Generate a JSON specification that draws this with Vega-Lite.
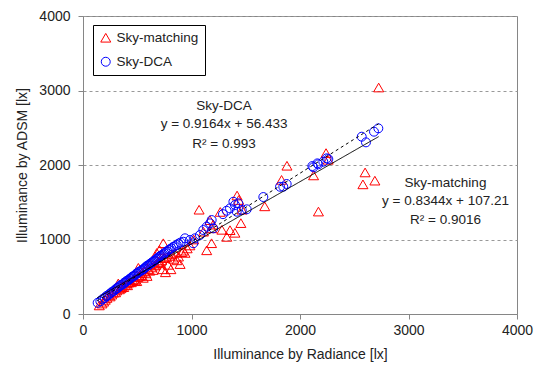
{
  "$schema": "https://vega.github.io/schema/vega-lite/v6.json",
  "width": 434,
  "height": 298,
  "autosize": {"type": "none"},
  "padding": {"left": 83, "top": 16, "right": 17, "bottom": 57},
  "background": "white",
  "config": {
    "font": "Liberation Sans",
    "view": {"stroke": "#868686", "strokeWidth": 1},
    "axis": {
      "domainColor": "#868686",
      "tickColor": "#868686",
      "tickSize": 5,
      "labelFontSize": 14,
      "labelColor": "#222222",
      "titleFontSize": 14,
      "titleFontWeight": "normal",
      "titleColor": "#222222",
      "labelFont": "Liberation Sans",
      "titleFont": "Liberation Sans"
    },
    "legend": {
      "orient": "none",
      "legendX": 10,
      "legendY": 9,
      "strokeColor": "#000000",
      "fillColor": "white",
      "padding": 6,
      "rowPadding": 9,
      "labelFontSize": 13.5,
      "labelOffset": 4,
      "labelColor": "#222222",
      "labelFont": "Liberation Sans",
      "symbolSize": 90,
      "symbolStrokeWidth": 1
    }
  },
  "datasets": {
    "points": [
      {"series": "Sky-matching", "x": 150, "y": 115},
      {"series": "Sky-matching", "x": 175, "y": 140},
      {"series": "Sky-matching", "x": 190, "y": 165},
      {"series": "Sky-matching", "x": 205, "y": 190},
      {"series": "Sky-matching", "x": 220, "y": 215},
      {"series": "Sky-matching", "x": 235, "y": 250},
      {"series": "Sky-matching", "x": 250, "y": 235},
      {"series": "Sky-matching", "x": 265, "y": 260},
      {"series": "Sky-matching", "x": 280, "y": 285},
      {"series": "Sky-matching", "x": 300, "y": 290},
      {"series": "Sky-matching", "x": 310, "y": 315},
      {"series": "Sky-matching", "x": 325, "y": 410},
      {"series": "Sky-matching", "x": 335, "y": 330},
      {"series": "Sky-matching", "x": 350, "y": 345},
      {"series": "Sky-matching", "x": 360, "y": 375},
      {"series": "Sky-matching", "x": 375, "y": 360},
      {"series": "Sky-matching", "x": 390, "y": 390},
      {"series": "Sky-matching", "x": 400, "y": 410},
      {"series": "Sky-matching", "x": 410, "y": 385},
      {"series": "Sky-matching", "x": 420, "y": 420},
      {"series": "Sky-matching", "x": 430, "y": 430},
      {"series": "Sky-matching", "x": 445, "y": 425},
      {"series": "Sky-matching", "x": 460, "y": 455},
      {"series": "Sky-matching", "x": 470, "y": 470},
      {"series": "Sky-matching", "x": 480, "y": 450},
      {"series": "Sky-matching", "x": 495, "y": 440},
      {"series": "Sky-matching", "x": 505, "y": 495},
      {"series": "Sky-matching", "x": 510, "y": 620},
      {"series": "Sky-matching", "x": 520, "y": 510},
      {"series": "Sky-matching", "x": 535, "y": 520},
      {"series": "Sky-matching", "x": 545, "y": 550},
      {"series": "Sky-matching", "x": 555, "y": 485},
      {"series": "Sky-matching", "x": 565, "y": 570},
      {"series": "Sky-matching", "x": 580, "y": 545},
      {"series": "Sky-matching", "x": 590, "y": 510},
      {"series": "Sky-matching", "x": 600, "y": 600},
      {"series": "Sky-matching", "x": 615, "y": 580},
      {"series": "Sky-matching", "x": 620, "y": 670},
      {"series": "Sky-matching", "x": 635, "y": 625},
      {"series": "Sky-matching", "x": 645, "y": 590},
      {"series": "Sky-matching", "x": 660, "y": 650},
      {"series": "Sky-matching", "x": 670, "y": 660},
      {"series": "Sky-matching", "x": 680, "y": 820},
      {"series": "Sky-matching", "x": 690, "y": 690},
      {"series": "Sky-matching", "x": 700, "y": 700},
      {"series": "Sky-matching", "x": 705, "y": 860},
      {"series": "Sky-matching", "x": 715, "y": 680},
      {"series": "Sky-matching", "x": 725, "y": 720},
      {"series": "Sky-matching", "x": 735, "y": 600},
      {"series": "Sky-matching", "x": 740, "y": 950},
      {"series": "Sky-matching", "x": 750, "y": 750},
      {"series": "Sky-matching", "x": 760, "y": 560},
      {"series": "Sky-matching", "x": 770, "y": 760},
      {"series": "Sky-matching", "x": 785, "y": 660},
      {"series": "Sky-matching", "x": 795, "y": 780},
      {"series": "Sky-matching", "x": 810, "y": 600},
      {"series": "Sky-matching", "x": 820, "y": 800},
      {"series": "Sky-matching", "x": 835, "y": 740},
      {"series": "Sky-matching", "x": 850, "y": 820},
      {"series": "Sky-matching", "x": 865, "y": 720},
      {"series": "Sky-matching", "x": 880, "y": 770},
      {"series": "Sky-matching", "x": 895, "y": 670},
      {"series": "Sky-matching", "x": 910, "y": 830},
      {"series": "Sky-matching", "x": 925, "y": 850},
      {"series": "Sky-matching", "x": 940, "y": 820},
      {"series": "Sky-matching", "x": 960, "y": 880},
      {"series": "Sky-matching", "x": 985, "y": 920},
      {"series": "Sky-matching", "x": 1020, "y": 1000},
      {"series": "Sky-matching", "x": 1070, "y": 1400},
      {"series": "Sky-matching", "x": 1110, "y": 1105},
      {"series": "Sky-matching", "x": 1140, "y": 855},
      {"series": "Sky-matching", "x": 1170, "y": 1260},
      {"series": "Sky-matching", "x": 1185, "y": 950},
      {"series": "Sky-matching", "x": 1186, "y": 1150},
      {"series": "Sky-matching", "x": 1200, "y": 1200},
      {"series": "Sky-matching", "x": 1265, "y": 1370},
      {"series": "Sky-matching", "x": 1280, "y": 1130},
      {"series": "Sky-matching", "x": 1325, "y": 1035},
      {"series": "Sky-matching", "x": 1355, "y": 1125},
      {"series": "Sky-matching", "x": 1400, "y": 1090},
      {"series": "Sky-matching", "x": 1420, "y": 1590},
      {"series": "Sky-matching", "x": 1435, "y": 1530},
      {"series": "Sky-matching", "x": 1455, "y": 1220},
      {"series": "Sky-matching", "x": 1465, "y": 1400},
      {"series": "Sky-matching", "x": 1675, "y": 1445},
      {"series": "Sky-matching", "x": 1830, "y": 1800},
      {"series": "Sky-matching", "x": 1880, "y": 1990},
      {"series": "Sky-matching", "x": 2125, "y": 1860},
      {"series": "Sky-matching", "x": 2170, "y": 1375},
      {"series": "Sky-matching", "x": 2240, "y": 2160},
      {"series": "Sky-matching", "x": 2260, "y": 2070},
      {"series": "Sky-matching", "x": 2580, "y": 1740},
      {"series": "Sky-matching", "x": 2600, "y": 1900},
      {"series": "Sky-matching", "x": 2690, "y": 1790},
      {"series": "Sky-matching", "x": 2725, "y": 3040},
      {"series": "Sky-DCA", "x": 135, "y": 150},
      {"series": "Sky-DCA", "x": 160, "y": 170},
      {"series": "Sky-DCA", "x": 180, "y": 200},
      {"series": "Sky-DCA", "x": 200, "y": 215},
      {"series": "Sky-DCA", "x": 215, "y": 240},
      {"series": "Sky-DCA", "x": 230, "y": 250},
      {"series": "Sky-DCA", "x": 245, "y": 270},
      {"series": "Sky-DCA", "x": 260, "y": 285},
      {"series": "Sky-DCA", "x": 270, "y": 300},
      {"series": "Sky-DCA", "x": 285, "y": 310},
      {"series": "Sky-DCA", "x": 300, "y": 330},
      {"series": "Sky-DCA", "x": 310, "y": 345},
      {"series": "Sky-DCA", "x": 320, "y": 350},
      {"series": "Sky-DCA", "x": 335, "y": 370},
      {"series": "Sky-DCA", "x": 345, "y": 385},
      {"series": "Sky-DCA", "x": 355, "y": 390},
      {"series": "Sky-DCA", "x": 370, "y": 400},
      {"series": "Sky-DCA", "x": 380, "y": 420},
      {"series": "Sky-DCA", "x": 390, "y": 425},
      {"series": "Sky-DCA", "x": 400, "y": 440},
      {"series": "Sky-DCA", "x": 410, "y": 450},
      {"series": "Sky-DCA", "x": 420, "y": 455},
      {"series": "Sky-DCA", "x": 430, "y": 470},
      {"series": "Sky-DCA", "x": 440, "y": 480},
      {"series": "Sky-DCA", "x": 450, "y": 495},
      {"series": "Sky-DCA", "x": 460, "y": 505},
      {"series": "Sky-DCA", "x": 470, "y": 510},
      {"series": "Sky-DCA", "x": 480, "y": 520},
      {"series": "Sky-DCA", "x": 490, "y": 540},
      {"series": "Sky-DCA", "x": 500, "y": 545},
      {"series": "Sky-DCA", "x": 510, "y": 560},
      {"series": "Sky-DCA", "x": 520, "y": 570},
      {"series": "Sky-DCA", "x": 535, "y": 580},
      {"series": "Sky-DCA", "x": 545, "y": 590},
      {"series": "Sky-DCA", "x": 555, "y": 600},
      {"series": "Sky-DCA", "x": 565, "y": 610},
      {"series": "Sky-DCA", "x": 575, "y": 625},
      {"series": "Sky-DCA", "x": 585, "y": 640},
      {"series": "Sky-DCA", "x": 595, "y": 650},
      {"series": "Sky-DCA", "x": 605, "y": 655},
      {"series": "Sky-DCA", "x": 615, "y": 670},
      {"series": "Sky-DCA", "x": 625, "y": 680},
      {"series": "Sky-DCA", "x": 635, "y": 690},
      {"series": "Sky-DCA", "x": 645, "y": 700},
      {"series": "Sky-DCA", "x": 655, "y": 715},
      {"series": "Sky-DCA", "x": 665, "y": 720},
      {"series": "Sky-DCA", "x": 675, "y": 735},
      {"series": "Sky-DCA", "x": 685, "y": 745},
      {"series": "Sky-DCA", "x": 695, "y": 760},
      {"series": "Sky-DCA", "x": 705, "y": 770},
      {"series": "Sky-DCA", "x": 715, "y": 780},
      {"series": "Sky-DCA", "x": 725, "y": 790},
      {"series": "Sky-DCA", "x": 740, "y": 800},
      {"series": "Sky-DCA", "x": 750, "y": 815},
      {"series": "Sky-DCA", "x": 760, "y": 830},
      {"series": "Sky-DCA", "x": 775, "y": 840},
      {"series": "Sky-DCA", "x": 790, "y": 860},
      {"series": "Sky-DCA", "x": 800, "y": 870},
      {"series": "Sky-DCA", "x": 815, "y": 880},
      {"series": "Sky-DCA", "x": 830, "y": 900},
      {"series": "Sky-DCA", "x": 845, "y": 910},
      {"series": "Sky-DCA", "x": 864, "y": 926},
      {"series": "Sky-DCA", "x": 880, "y": 945},
      {"series": "Sky-DCA", "x": 900, "y": 960},
      {"series": "Sky-DCA", "x": 925, "y": 970},
      {"series": "Sky-DCA", "x": 940, "y": 1016},
      {"series": "Sky-DCA", "x": 986, "y": 993},
      {"series": "Sky-DCA", "x": 1017, "y": 949},
      {"series": "Sky-DCA", "x": 1032, "y": 1016},
      {"series": "Sky-DCA", "x": 1078, "y": 1060},
      {"series": "Sky-DCA", "x": 1109, "y": 1127},
      {"series": "Sky-DCA", "x": 1140, "y": 1172},
      {"series": "Sky-DCA", "x": 1171, "y": 1217},
      {"series": "Sky-DCA", "x": 1186, "y": 1261},
      {"series": "Sky-DCA", "x": 1201, "y": 1150},
      {"series": "Sky-DCA", "x": 1290, "y": 1340},
      {"series": "Sky-DCA", "x": 1324, "y": 1386},
      {"series": "Sky-DCA", "x": 1355, "y": 1418},
      {"series": "Sky-DCA", "x": 1386, "y": 1507},
      {"series": "Sky-DCA", "x": 1401, "y": 1463},
      {"series": "Sky-DCA", "x": 1417, "y": 1373},
      {"series": "Sky-DCA", "x": 1432, "y": 1486},
      {"series": "Sky-DCA", "x": 1463, "y": 1396},
      {"series": "Sky-DCA", "x": 1509, "y": 1405},
      {"series": "Sky-DCA", "x": 1662, "y": 1570},
      {"series": "Sky-DCA", "x": 1816, "y": 1708},
      {"series": "Sky-DCA", "x": 1846, "y": 1708},
      {"series": "Sky-DCA", "x": 1877, "y": 1745},
      {"series": "Sky-DCA", "x": 2114, "y": 1986},
      {"series": "Sky-DCA", "x": 2123, "y": 1969},
      {"series": "Sky-DCA", "x": 2160, "y": 2022},
      {"series": "Sky-DCA", "x": 2169, "y": 2009},
      {"series": "Sky-DCA", "x": 2215, "y": 2044},
      {"series": "Sky-DCA", "x": 2246, "y": 2090},
      {"series": "Sky-DCA", "x": 2261, "y": 2080},
      {"series": "Sky-DCA", "x": 2569, "y": 2380},
      {"series": "Sky-DCA", "x": 2608, "y": 2304},
      {"series": "Sky-DCA", "x": 2682, "y": 2447},
      {"series": "Sky-DCA", "x": 2722, "y": 2492}
    ],
    "trend": [
      {"fit": "matching", "x": 130, "y": 215.7},
      {"fit": "matching", "x": 2725, "y": 2380.9},
      {"fit": "dca", "x": 130, "y": 175.6},
      {"fit": "dca", "x": 2725, "y": 2553.6}
    ],
    "notes": [
      {"x": 1300, "y": 2791, "label": "Sky-DCA"},
      {"x": 1300, "y": 2550, "label": "y = 0.9164x + 56.433"},
      {"x": 1300, "y": 2281, "label": "R² = 0.993"},
      {"x": 3341, "y": 1762, "label": "Sky-matching"},
      {"x": 3341, "y": 1520, "label": "y = 0.8344x + 107.21"},
      {"x": 3341, "y": 1261, "label": "R² = 0.9016"}
    ]
  },
  "encoding": {
    "x": {
      "field": "x",
      "type": "quantitative",
      "scale": {"domain": [0, 4000], "nice": false, "zero": false},
      "axis": {
        "title": "Illuminance by Radiance [lx]",
        "values": [0, 1000, 2000, 3000, 4000],
        "format": "d",
        "grid": false,
        "labelPadding": 4,
        "titlePadding": 10,
        "labelFlush": false
      }
    },
    "y": {
      "field": "y",
      "type": "quantitative",
      "scale": {"domain": [0, 4000], "nice": false, "zero": false},
      "axis": {
        "title": "Illuminance by ADSM [lx]",
        "values": [0, 1000, 2000, 3000, 4000],
        "format": "d",
        "grid": true,
        "gridDash": [3, 3],
        "gridColor": "#999999",
        "labelPadding": 8,
        "titlePadding": 9,
        "labelFlush": false
      }
    }
  },
  "layer": [
    {
      "data": {"name": "points"},
      "mark": {"type": "point", "filled": false, "strokeWidth": 1, "opacity": 1},
      "encoding": {
        "color": {
          "field": "series",
          "type": "nominal",
          "scale": {"domain": ["Sky-matching", "Sky-DCA"], "range": ["#ff0000", "#0000ff"]},
          "legend": {"title": null}
        },
        "shape": {
          "field": "series",
          "type": "nominal",
          "scale": {"domain": ["Sky-matching", "Sky-DCA"], "range": ["triangle-up", "circle"]},
          "legend": {"title": null}
        },
        "size": {
          "field": "series",
          "type": "nominal",
          "scale": {"domain": ["Sky-matching", "Sky-DCA"], "range": [100, 80]},
          "legend": null
        }
      }
    },
    {
      "data": {"name": "trend"},
      "mark": {"type": "line", "color": "#000000", "strokeWidth": 1},
      "encoding": {
        "detail": {"field": "fit", "type": "nominal"},
        "strokeDash": {
          "field": "fit",
          "type": "nominal",
          "scale": {"domain": ["matching", "dca"], "range": [[1, 0], [3, 3]]},
          "legend": null
        }
      }
    },
    {
      "data": {"name": "notes"},
      "mark": {"type": "text", "fontSize": 13.5, "font": "Liberation Sans", "color": "#222222", "align": "center", "baseline": "middle"},
      "encoding": {
        "text": {"field": "label", "type": "nominal"}
      }
    }
  ]
}
